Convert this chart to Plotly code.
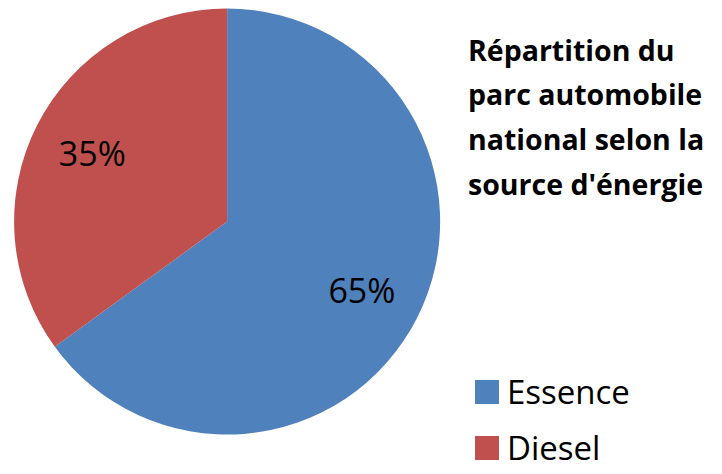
import plotly.graph_objects as go

# Data
energy_labels = ['Essence', 'Diesel']
energy_share = [65, 35]
slice_colors = ['#4F81BD', '#C0504D']

title_lines = ["Répartition du", "parc automobile", "national selon la", "source d'énergie"]

W, H = 722, 474
FONT = 'Open Sans'
pie_domain = dict(x=[0.0, 0.607], y=[0.1001, 0.9989])

fig = go.Figure()

# Filled pie (no text)
fig.add_trace(
    go.Pie(labels=energy_labels, values=energy_share, sort=False,
           direction='clockwise', rotation=0,
           marker=dict(colors=slice_colors, line=dict(width=0)),
           textinfo='none', domain=pie_domain, showlegend=False,
           hoverinfo='label+percent')
)

# Transparent ring on top, only to push the percent labels outward
fig.add_trace(
    go.Pie(labels=energy_labels, values=energy_share, sort=False,
           direction='clockwise', rotation=0, hole=0.42,
           marker=dict(colors=['rgba(0,0,0,0)'] * len(energy_labels),
                       line=dict(width=0)),
           texttemplate='%{percent:.0%}', textposition='inside',
           insidetextorientation='horizontal',
           insidetextfont=dict(color='black', size=34, family=FONT),
           domain=pie_domain, showlegend=False, hoverinfo='skip')
)

# Title block on the right
for i, line in enumerate(title_lines):
    fig.add_annotation(
        text=line, xref='paper', yref='paper',
        x=458 / W, y=1 - (42 + i * 44.5) / H,
        xanchor='left', yanchor='middle', align='left', showarrow=False,
        font=dict(family=FONT, size=28.5, color='black', weight='bold'))

# Legend (square + label)
for i, (lab, col) in enumerate(zip(energy_labels, slice_colors)):
    yc = 1 - (384 + i * 56) / H
    fig.add_annotation(
        text=' ', xref='paper', yref='paper', x=467 / W, y=yc,
        xanchor='left', yanchor='middle', showarrow=False,
        width=24, height=24, bgcolor=col, borderpad=0, borderwidth=0,
        font=dict(size=10))
    fig.add_annotation(
        text=lab, xref='paper', yref='paper', x=497 / W, y=yc + 1 / H,
        xanchor='left', yanchor='middle', showarrow=False,
        font=dict(family=FONT, size=33, color='black'))

fig.update_layout(
    width=W, height=H,
    margin=dict(l=0, r=0, t=0, b=0),
    paper_bgcolor='white', plot_bgcolor='white',
    showlegend=False
)

fig.write_html("out.html")
